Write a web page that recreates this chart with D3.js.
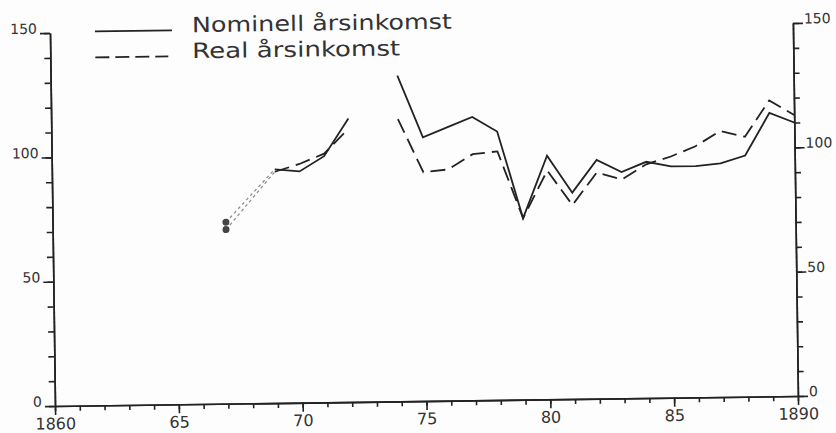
<!DOCTYPE html>
<html>
<head>
<meta charset="utf-8">
<script src="https://cdn.jsdelivr.net/npm/d3@7"></script>
<style>
	body { margin: 0; background: #fdfdfd; }
	svg text { font-family: 'DejaVu Sans', sans-serif; fill: #333; }
</style>
</head>
<body>
<svg id="canvas"></svg>
<script>
// years covered by the series, null = no observation
const years = [1867, 1868, 1869, 1870, 1871, 1872, 1873, 1874, 1875, 1876, 1877, 1878,
	1879, 1880, 1881, 1882, 1883, 1884, 1885, 1886, 1887, 1888, 1889, 1890];
const nominal = [73, null, 94, 93, 99, 114, null, 131, 106, 110, 114, 108,
	73, 98, 83, 96, 91, 95, 93, 93, 94, 97, 114, 110];
const real = [70, null, 93, 96, 100, 110, null, 113.5, 92, 93, 99, 100,
	73, 92, 78, 91, 88, 94, 97, 101, 107, 104.5, 119, 113];

const xMajorTicks = [1860, 1865, 1870, 1875, 1880, 1885, 1890];
const xTickLabels = ['1860', '65', '70', '75', '80', '85', '1890'];
const yMajorTicks = [0, 50, 100, 150];
const legendLabels = ['Nominell årsinkomst', 'Real årsinkomst'];

(() => {
	const w = 836;
	const h = 433;
	// the scanned figure sits slightly tilted, so the whole plot is rotated about its origin
	const originX = 55;
	const originY = 406;
	const tilt = -0.77;
	const plotW = 743;
	const plotH = 373;

	const svg = d3.select('#canvas').attr('width', w).attr('height', h);
	const g = svg.append('g')
		.attr('transform', 'translate(' + originX + ',' + originY + ') rotate(' + tilt + ')');

	const xScale = d3.scaleLinear().domain([1860, 1890]).range([0, plotW]);
	const yScale = d3.scaleLinear().domain([0, 150]).range([0, -plotH]);

	const ink = '#222';
	const noLabel = () => {
		return '';
	};

	//x axis: a small tick every year, a longer labelled one every five
	const xMinor = d3.axisBottom(xScale).tickValues(d3.range(1860, 1891)).tickSize(5).tickSizeOuter(0).tickFormat(noLabel);
	const xMajor = d3.axisBottom(xScale).tickValues(xMajorTicks).tickSize(9).tickSizeOuter(0).tickPadding(3)
		.tickFormat((d, i) => {
			return xTickLabels[i];
		});
	g.append('g').attr('class', 'minor').call(xMinor);
	g.append('g').attr('id', 'x-axis').call(xMajor);

	//y axes on both sides, minor ticks every ten
	const yMinorL = d3.axisLeft(yScale).tickValues(d3.range(0, 151, 10)).tickSize(6).tickSizeOuter(0).tickFormat(noLabel);
	const yMajorL = d3.axisLeft(yScale).tickValues(yMajorTicks).tickSize(10).tickSizeOuter(0).tickPadding(3)
		.tickFormat(d3.format('d'));
	const yMinorR = d3.axisRight(yScale).tickValues(d3.range(0, 151, 10)).tickSize(6).tickSizeOuter(0).tickFormat(noLabel);
	const yMajorR = d3.axisRight(yScale).tickValues(yMajorTicks).tickSize(10).tickSizeOuter(0).tickPadding(1)
		.tickFormat(d3.format('d'));

	g.append('g').attr('class', 'minor').call(yMinorL);
	g.append('g').attr('id', 'y-axis').call(yMajorL);
	g.append('g').attr('class', 'minor').attr('transform', 'translate(' + plotW + ',0)').call(yMinorR);
	g.append('g').attr('id', 'y-axis-right').attr('transform', 'translate(' + plotW + ',0)').call(yMajorR);

	g.selectAll('.domain').attr('stroke', ink).attr('stroke-width', 1.6);
	g.selectAll('.tick line').attr('stroke', ink).attr('stroke-width', 1.6);
	g.selectAll('.minor text').remove();
	g.selectAll('.tick text').attr('fill', '#333').style('font-family', "'DejaVu Sans', sans-serif");
	g.select('#x-axis').selectAll('text').style('font-size', '16px');
	g.selectAll('#y-axis text, #y-axis-right text').style('font-size', '14px').attr('dy', '0');

	const toPoints = (series) => {
		return years.map((year, i) => {
			return { year: year, value: series[i] };
		});
	};

	const line = d3.line()
		.defined((d) => {
			return d.value !== null;
		})
		.x((d) => {
			return xScale(d.year);
		})
		.y((d) => {
			return yScale(d.value);
		});

	const series = [
		{ name: 'nominal', values: toPoints(nominal), dash: null },
		{ name: 'real', values: toPoints(real), dash: '15,7' }
	];

	// the 1867 observation is joined by a faint dotted link and marked with a dot
	series.forEach((s) => {
		const early = s.values.filter((d) => {
			return d.value !== null;
		}).slice(0, 2);
		g.append('path')
			.datum(early)
			.attr('d', line)
			.attr('fill', 'none')
			.attr('stroke', '#888')
			.attr('stroke-width', 1.2)
			.attr('stroke-dasharray', '3,3');
		g.append('circle')
			.attr('cx', xScale(early[0].year))
			.attr('cy', yScale(early[0].value))
			.attr('r', 3.5)
			.attr('fill', '#444');
	});

	series.forEach((s) => {
		g.append('path')
			.datum(s.values)
			.attr('class', 'line ' + s.name)
			.attr('d', line)
			.attr('fill', 'none')
			.attr('stroke', ink)
			.attr('stroke-width', 1.8)
			.attr('stroke-linejoin', 'miter')
			.attr('stroke-dasharray', s.dash);
	});

	//legend, top left
	const legendRows = [
		{ y: -374, lineEnd: 122, dash: null, length: 260 },
		{ y: -348, lineEnd: 118, dash: '14,6', length: 208 }
	];
	legendRows.forEach((row, i) => {
		g.append('line')
			.attr('x1', 45)
			.attr('x2', row.lineEnd)
			.attr('y1', row.y)
			.attr('y2', row.y)
			.attr('stroke', ink)
			.attr('stroke-width', 1.8)
			.attr('stroke-dasharray', row.dash);
		g.append('text')
			.attr('x', 142)
			.attr('y', row.y + 2)
			.attr('textLength', row.length)
			.attr('lengthAdjust', 'spacingAndGlyphs')
			.style('font-size', '21px')
			.text(legendLabels[i]);
	});
})();
</script>
</body>
</html>
